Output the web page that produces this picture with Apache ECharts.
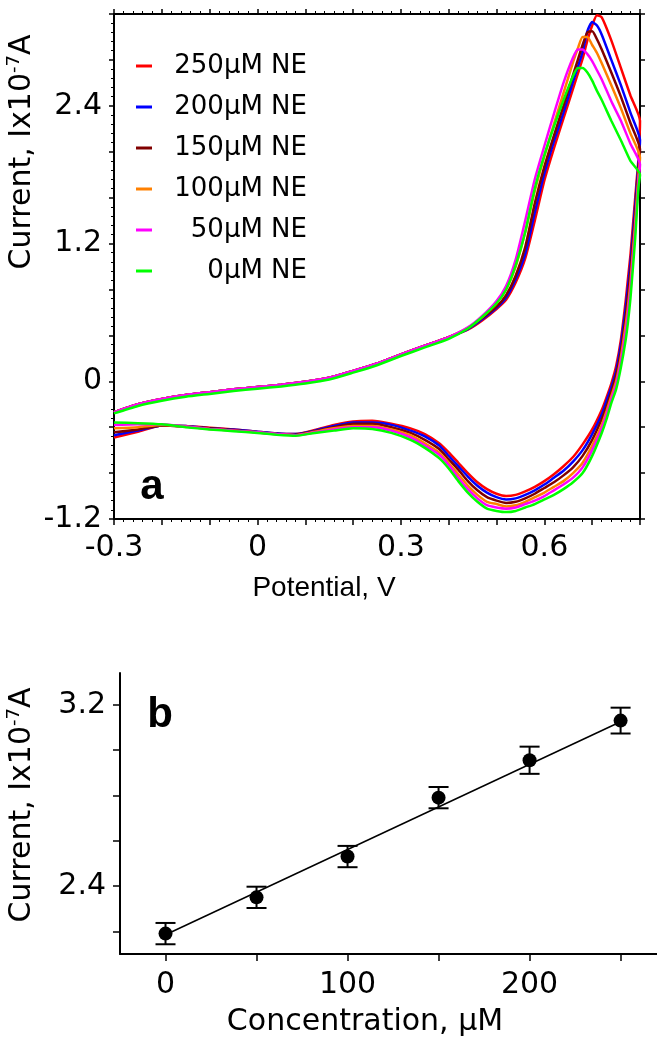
<!DOCTYPE html>
<html>
<head>
<meta charset="utf-8">
<script src="https://cdn.jsdelivr.net/npm/echarts@6/dist/echarts.min.js"></script>
<style>html,body{margin:0;padding:0;background:#fff}#c{width:657px;height:1050px}</style>
</head>
<body>
<div id="c"></div>
<script>
// ---------- Panel a: cyclic voltammograms ----------
const seriesNames = ['250\u03bcM NE', '200\u03bcM NE', '150\u03bcM NE', '100\u03bcM NE', '50\u03bcM NE', '0\u03bcM NE'];
const seriesColors = ['#ff0000', '#0000ff', '#800000', '#ff8000', '#ff00ff', '#00ff00'];

// forward (anodic) scan potentials, V
const fwdX = [-0.3, -0.25, -0.2, -0.15, -0.1, -0.05, 0, 0.05, 0.1, 0.15, 0.2, 0.25, 0.3, 0.35, 0.4,
  0.44, 0.47, 0.5, 0.52, 0.54, 0.56, 0.58, 0.6, 0.62, 0.64, 0.66, 0.67, 0.68, 0.69, 0.7, 0.71, 0.72, 0.74, 0.76, 0.78, 0.8];
const fwd250 = [-0.27, -0.20, -0.155, -0.12, -0.095, -0.07, -0.05, -0.03, -0.005, 0.03, 0.09, 0.155, 0.235, 0.31, 0.385,
  0.45, 0.53, 0.63, 0.71, 0.86, 1.07, 1.40, 1.75, 2.03, 2.29, 2.55, 2.68, 2.81, 2.97, 3.10, 3.19, 3.17, 2.97, 2.73, 2.49, 2.27];
const fwd200 = [-0.27, -0.20, -0.155, -0.12, -0.095, -0.07, -0.05, -0.03, -0.005, 0.03, 0.09, 0.155, 0.235, 0.31, 0.385,
  0.455, 0.54, 0.64, 0.73, 0.89, 1.11, 1.47, 1.81, 2.09, 2.34, 2.61, 2.74, 2.87, 3.05, 3.13, 3.10, 3.02, 2.80, 2.58, 2.34, 2.10];
const fwd150 = [-0.27, -0.20, -0.155, -0.12, -0.095, -0.07, -0.05, -0.03, -0.005, 0.03, 0.09, 0.155, 0.235, 0.31, 0.385,
  0.46, 0.55, 0.65, 0.75, 0.92, 1.17, 1.55, 1.87, 2.14, 2.40, 2.67, 2.80, 2.93, 3.04, 3.05, 2.98, 2.89, 2.69, 2.48, 2.25, 2.02];
const fwd100 = [-0.27, -0.20, -0.155, -0.12, -0.095, -0.07, -0.05, -0.03, -0.005, 0.03, 0.09, 0.155, 0.235, 0.31, 0.385,
  0.465, 0.56, 0.68, 0.80, 1.00, 1.30, 1.66, 1.96, 2.24, 2.51, 2.78, 2.90, 3.00, 3.00, 2.93, 2.86, 2.77, 2.58, 2.38, 2.16, 1.95];
const fwd50 = [-0.27, -0.20, -0.155, -0.12, -0.095, -0.07, -0.05, -0.03, -0.005, 0.03, 0.09, 0.155, 0.235, 0.31, 0.385,
  0.47, 0.57, 0.70, 0.83, 1.06, 1.40, 1.76, 2.05, 2.33, 2.60, 2.82, 2.89, 2.89, 2.85, 2.79, 2.71, 2.63, 2.44, 2.27, 2.07, 1.89];
const fwd0 = [-0.28, -0.215, -0.17, -0.135, -0.11, -0.085, -0.065, -0.045, -0.02, 0.015, 0.075, 0.14, 0.22, 0.295, 0.37,
  0.46, 0.56, 0.68, 0.80, 1.01, 1.30, 1.68, 1.97, 2.22, 2.45, 2.66, 2.73, 2.73, 2.69, 2.62, 2.53, 2.45, 2.27, 2.10, 1.92, 1.80];

// reverse (cathodic) scan potentials, V
const revX = [0.797, 0.793, 0.79, 0.785, 0.78, 0.775, 0.77, 0.76, 0.75, 0.74, 0.73, 0.72, 0.7, 0.68, 0.66, 0.64, 0.62, 0.6,
  0.58, 0.56, 0.54, 0.52, 0.5, 0.48, 0.46, 0.44, 0.42, 0.4, 0.38, 0.35, 0.32, 0.28, 0.24, 0.2, 0.16, 0.12, 0.08, 0.04, 0,
  -0.05, -0.1, -0.15, -0.2, -0.25, -0.3];
const rev250 = [1.95, 1.75, 1.6, 1.35, 1.1, 0.9, 0.70, 0.36, 0.13, -0.02, -0.14, -0.25, -0.42, -0.55, -0.66, -0.74, -0.81, -0.87,
  -0.92, -0.96, -0.99, -1.00, -0.98, -0.94, -0.88, -0.80, -0.71, -0.62, -0.54, -0.46, -0.41, -0.37, -0.345, -0.35, -0.38, -0.425, -0.46, -0.455, -0.44,
  -0.42, -0.405, -0.39, -0.385, -0.44, -0.49];
const rev200 = [1.90, 1.70, 1.54, 1.28, 1.03, 0.83, 0.64, 0.32, 0.09, -0.05, -0.17, -0.29, -0.46, -0.60, -0.70, -0.78, -0.84, -0.90,
  -0.95, -0.99, -1.02, -1.03, -1.01, -0.97, -0.91, -0.83, -0.74, -0.65, -0.56, -0.48, -0.43, -0.38, -0.36, -0.36, -0.39, -0.43, -0.46, -0.455, -0.44,
  -0.42, -0.41, -0.39, -0.385, -0.43, -0.47];
const rev150 = [1.85, 1.63, 1.46, 1.20, 0.95, 0.75, 0.56, 0.26, 0.05, -0.09, -0.22, -0.33, -0.51, -0.65, -0.75, -0.82, -0.88, -0.93,
  -0.98, -1.02, -1.05, -1.06, -1.04, -1.01, -0.95, -0.87, -0.77, -0.68, -0.59, -0.51, -0.45, -0.40, -0.37, -0.37, -0.40, -0.435, -0.465, -0.46, -0.445,
  -0.425, -0.41, -0.395, -0.385, -0.42, -0.445];
const rev100 = [1.80, 1.56, 1.38, 1.12, 0.86, 0.66, 0.49, 0.21, 0.0, -0.13, -0.26, -0.38, -0.56, -0.71, -0.80, -0.87, -0.92, -0.97,
  -1.01, -1.05, -1.08, -1.09, -1.07, -1.05, -0.99, -0.91, -0.81, -0.71, -0.62, -0.54, -0.47, -0.42, -0.39, -0.39, -0.41, -0.44, -0.47, -0.46, -0.445,
  -0.43, -0.415, -0.395, -0.38, -0.40, -0.41];
const rev50 = [1.75, 1.51, 1.32, 1.06, 0.80, 0.60, 0.43, 0.17, -0.03, -0.16, -0.29, -0.41, -0.60, -0.75, -0.84, -0.90, -0.95, -1.00,
  -1.04, -1.07, -1.10, -1.11, -1.10, -1.08, -1.02, -0.94, -0.84, -0.73, -0.64, -0.56, -0.49, -0.43, -0.40, -0.40, -0.42, -0.445, -0.47, -0.46, -0.445,
  -0.43, -0.415, -0.395, -0.375, -0.375, -0.38];
const rev0 = [1.70, 1.45, 1.25, 0.98, 0.72, 0.52, 0.36, 0.12, -0.07, -0.19, -0.33, -0.45, -0.65, -0.80, -0.88, -0.94, -0.99, -1.03,
  -1.07, -1.10, -1.13, -1.14, -1.13, -1.11, -1.05, -0.97, -0.87, -0.76, -0.67, -0.58, -0.51, -0.45, -0.415, -0.41, -0.43, -0.45, -0.475, -0.465, -0.45,
  -0.435, -0.42, -0.40, -0.375, -0.365, -0.36];

const fwdSets = [fwd250, fwd200, fwd150, fwd100, fwd50, fwd0];
const revSets = [rev250, rev200, rev150, rev100, rev50, rev0];

const xTicksA = [-0.3, 0, 0.3, 0.6];
const yTicksA = [-1.2, 0, 1.2, 2.4];

// ---------- Panel b: calibration ----------
const concX = [0, 50, 100, 150, 200, 250];
const currY = [2.19, 2.35, 2.53, 2.79, 2.955, 3.13];
const currErr = [0.047, 0.047, 0.047, 0.047, 0.06, 0.057];
const fitX = [0, 250];
const fitY = [2.185, 3.125];
const xTickB = [0, 50, 100, 150, 200, 250];
const xLabelB = [0, 100, 200];
const yTickB = [2.2, 2.4, 2.6, 2.8, 3.0, 3.2];
const yLabelB = [2.4, 3.2];

const chart = echarts.init(document.getElementById('c'), null, {renderer: 'canvas'});
const tickFont = 'DejaVu Sans';

function pickFmt(list) {
  return function (v) {
    for (const t of list) if (Math.abs(t - v) < 1e-6) return String(+t.toFixed(1));
    return '';
  };
}

const cvSeries = seriesNames.map((name, k) => ({
  name: name,
  type: 'line',
  xAxisIndex: 0,
  yAxisIndex: 0,
  showSymbol: false,
  smooth: 0.2,
  color: seriesColors[k],
  lineStyle: {width: 2.5, color: seriesColors[k]},
  data: fwdX.map((x, i) => [x, fwdSets[k][i]]).concat(revX.map((x, i) => [x, revSets[k][i]])),
  z: 3
}));

const axisLineStyle = {show: true, onZero: false, lineStyle: {color: '#000', width: 2}};

const option = {
  animation: false,
  backgroundColor: '#ffffff',
  grid: [
    {left: 114, top: 14, width: 526, height: 505},
    {left: 120, top: 673, width: 537, height: 281}
  ],
  legend: {
    data: seriesNames,
    orient: 'vertical',
    left: 131,
    top: 48,
    icon: 'rect',
    itemWidth: 16,
    itemHeight: 3,
    itemGap: 15,
    selectedMode: false,
    formatter: function (n) { return '{t|' + n + '}'; },
    textStyle: {
      rich: {t: {width: 150, align: 'right', fontSize: 26, fontFamily: tickFont, color: '#000', lineHeight: 30}}
    }
  },
  xAxis: [
    {
      gridIndex: 0, type: 'value', min: -0.3, max: 0.8, interval: 0.1, position: 'bottom',
      axisLine: axisLineStyle,
      axisTick: {show: true, length: 6, lineStyle: {color: '#000', width: 1.5}},
      minorTick: {show: true, splitNumber: 5, length: 3, lineStyle: {color: '#000', width: 1}},
      axisLabel: {customValues: xTicksA, formatter: pickFmt(xTicksA), fontFamily: tickFont, fontSize: 30, color: '#000', margin: 14},
      splitLine: {show: false}
    },
    {
      gridIndex: 0, type: 'value', min: -0.3, max: 0.8, interval: 0.1, position: 'top',
      axisLine: axisLineStyle,
      axisTick: {show: true, length: 5, lineStyle: {color: '#000', width: 1.5}},
      minorTick: {show: true, splitNumber: 5, length: 3, lineStyle: {color: '#000', width: 1}},
      axisLabel: {show: false},
      splitLine: {show: false}
    },
    {
      gridIndex: 1, type: 'value', min: -25, max: 270, position: 'bottom',
      axisLine: axisLineStyle,
      axisTick: {show: true, customValues: xTickB, length: 7, lineStyle: {color: '#000', width: 1.5}},
      axisLabel: {customValues: xLabelB, fontFamily: tickFont, fontSize: 30, color: '#000', margin: 16},
      splitLine: {show: false}
    }
  ],
  yAxis: [
    {
      gridIndex: 0, type: 'value', min: -1.2, max: 3.2, interval: 0.4, position: 'left',
      axisLine: axisLineStyle,
      axisTick: {show: true, length: 5, lineStyle: {color: '#000', width: 1.5}},
      minorTick: {show: true, splitNumber: 5, length: 3, lineStyle: {color: '#000', width: 1}},
      axisLabel: {customValues: yTicksA, formatter: pickFmt(yTicksA), fontFamily: tickFont, fontSize: 30, color: '#000', margin: 12},
      splitLine: {show: false}
    },
    {
      gridIndex: 0, type: 'value', min: -1.2, max: 3.2, interval: 0.4, position: 'right',
      axisLine: axisLineStyle,
      axisTick: {show: true, length: 5, lineStyle: {color: '#000', width: 1.5}},
      axisLabel: {show: false},
      splitLine: {show: false}
    },
    {
      gridIndex: 1, type: 'value', min: 2.1, max: 3.34, position: 'left',
      axisLine: axisLineStyle,
      axisTick: {show: true, customValues: yTickB, length: 7, lineStyle: {color: '#000', width: 1.5}},
      axisLabel: {customValues: yLabelB, formatter: pickFmt(yLabelB), fontFamily: tickFont, fontSize: 30, color: '#000', margin: 14},
      splitLine: {show: false}
    }
  ],
  graphic: [
    {type: 'text', x: 22, y: 152, rotation: Math.PI / 2,
      style: {text: '{a|Current, Ix10}{s|-7}{a|A}', align: 'center', verticalAlign: 'middle',
        rich: {a: {fontFamily: tickFont, fontSize: 30, fill: '#000', lineHeight: 34},
               s: {fontFamily: tickFont, fontSize: 18, fill: '#000', lineHeight: 18, verticalAlign: 'top'}}}},
    {type: 'text', x: 324, y: 588,
      style: {text: 'Potential, V', fontFamily: 'Liberation Sans', fontSize: 28, fill: '#000', align: 'center', verticalAlign: 'middle'}},
    {type: 'text', x: 152, y: 487,
      style: {text: 'a', fontFamily: 'Liberation Sans', fontWeight: 'bold', fontSize: 42, fill: '#000', align: 'center', verticalAlign: 'middle'}},
    {type: 'text', x: 22, y: 805, rotation: Math.PI / 2,
      style: {text: '{a|Current, Ix10}{s|-7}{a|A}', align: 'center', verticalAlign: 'middle',
        rich: {a: {fontFamily: tickFont, fontSize: 30, fill: '#000', lineHeight: 34},
               s: {fontFamily: tickFont, fontSize: 18, fill: '#000', lineHeight: 18, verticalAlign: 'top'}}}},
    {type: 'text', x: 365, y: 1022,
      style: {text: 'Concentration, \u03bcM', fontFamily: tickFont, fontSize: 30, fill: '#000', align: 'center', verticalAlign: 'middle'}},
    {type: 'text', x: 160, y: 715,
      style: {text: 'b', fontFamily: 'Liberation Sans', fontWeight: 'bold', fontSize: 42, fill: '#000', align: 'center', verticalAlign: 'middle'}}
  ],
  series: cvSeries.concat([
    {
      name: 'fit', type: 'line', xAxisIndex: 2, yAxisIndex: 2, showSymbol: false,
      lineStyle: {color: '#000', width: 1.5}, color: '#000',
      data: fitX.map((x, i) => [x, fitY[i]]), z: 2
    },
    {
      name: 'err', type: 'custom', xAxisIndex: 2, yAxisIndex: 2,
      data: concX.map((x, i) => [x, currY[i] - currErr[i], currY[i] + currErr[i]]),
      renderItem: function (params, api) {
        const x = api.value(0);
        const lo = api.coord([x, api.value(1)]);
        const hi = api.coord([x, api.value(2)]);
        const w = 10;
        const st = {stroke: '#000', lineWidth: 2};
        return {type: 'group', children: [
          {type: 'line', shape: {x1: hi[0], y1: hi[1], x2: lo[0], y2: lo[1]}, style: st},
          {type: 'line', shape: {x1: hi[0] - w, y1: hi[1], x2: hi[0] + w, y2: hi[1]}, style: st},
          {type: 'line', shape: {x1: lo[0] - w, y1: lo[1], x2: lo[0] + w, y2: lo[1]}, style: st}
        ]};
      },
      z: 4
    },
    {
      name: 'data', type: 'scatter', xAxisIndex: 2, yAxisIndex: 2, symbol: 'circle', symbolSize: 14,
      itemStyle: {color: '#000', opacity: 1}, data: concX.map((x, i) => [x, currY[i]]), z: 5
    }
  ])
};
chart.setOption(option);
</script>
</body>
</html>
